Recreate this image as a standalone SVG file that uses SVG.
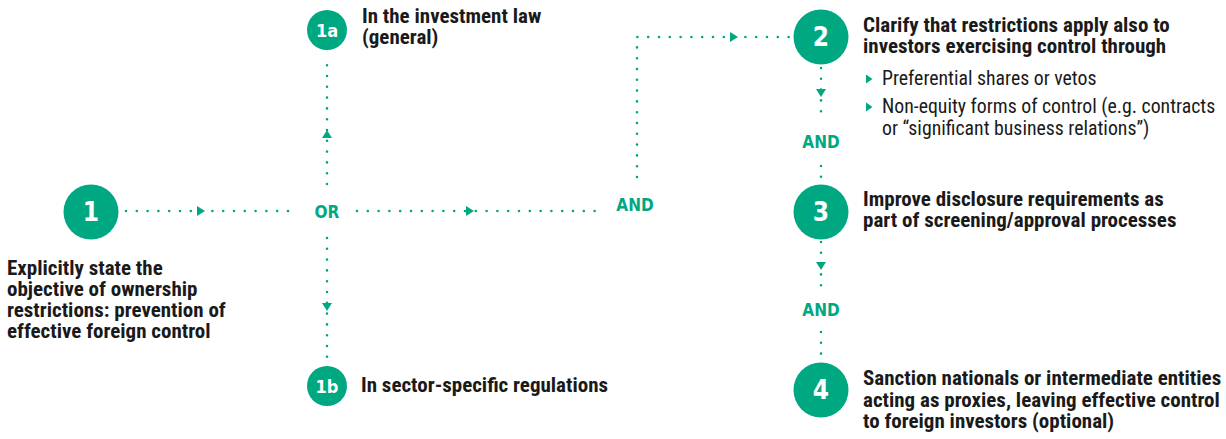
<svg xmlns="http://www.w3.org/2000/svg" width="1226" height="439" viewBox="0 0 1226 439">
<style>
.txt{font-family:"Liberation Sans Narrow","Roboto Condensed","DejaVu Sans Condensed",sans-serif;font-stretch:condensed;fill:#1a1a1a}
.b{font-weight:bold;font-size:21px}
.r{font-size:19.8px}
.g{fill:#00a882}
.lbl{font-family:"Liberation Sans Narrow","DejaVu Sans Condensed",sans-serif;font-stretch:condensed;font-weight:bold;font-size:17px;fill:#00a882;text-anchor:middle}
.num{font-family:"Liberation Sans Narrow","DejaVu Sans Condensed",sans-serif;font-stretch:condensed;font-weight:bold;fill:#fff;text-anchor:middle}
.dot{fill:none;stroke:#00a882;stroke-width:2.6;stroke-linecap:round;stroke-dasharray:0 10.8}
.arr{fill:#00a882}
</style>
<defs>
<path id="ar" d="M-4,-5 L4,0 L-4,5 Z"/>
<path id="bul" d="M0,-4.5 L6.5,0 L0,4.5 Z"/>
</defs>
<g id="connectors">
<path class="dot" d="M126,211 H297"/>
<path class="dot" d="M357,211 H597"/>
<path class="dot" d="M327,184 V55"/>
<path class="dot" d="M327,238 V362"/>
<path class="dot" d="M637,177 V37 H790"/>
<path class="dot" d="M821,68 V112"/>
<path class="dot" d="M821,166 V178"/>
<path class="dot" d="M821,242 V287"/>
<path class="dot" d="M821,332 V356"/>
<use href="#ar" class="arr" transform="translate(201,211)"/>
<use href="#ar" class="arr" transform="translate(470,211)"/>
<use href="#ar" class="arr" transform="translate(327,134) rotate(-90)"/>
<use href="#ar" class="arr" transform="translate(327,307) rotate(90)"/>
<use href="#ar" class="arr" transform="translate(734,37)"/>
<use href="#ar" class="arr" transform="translate(821,93) rotate(90)"/>
<use href="#ar" class="arr" transform="translate(821,266) rotate(90)"/>
<text class="lbl" x="327" y="218">OR</text>
<text class="lbl" x="635" y="211">AND</text>
<text class="lbl" x="821" y="148">AND</text>
<text class="lbl" x="821" y="316">AND</text>
</g>
<g id="node1">
<circle cx="91" cy="212" r="27.5" class="g"/>
<text class="num" x="91" y="221" font-size="26">1</text>
<text class="txt b"><tspan x="7" y="275">Explicitly state the</tspan><tspan x="7" y="296">objective of ownership</tspan><tspan x="7" y="317">restrictions: prevention of</tspan><tspan x="7" y="338">effective foreign control</tspan></text>
</g>
<g id="node1a">
<circle cx="327" cy="30" r="20" class="g"/>
<text class="num" x="327" y="36.5" font-size="18">1a</text>
<text class="txt b"><tspan x="362" y="23">In the investment law</tspan><tspan x="362" y="44">(general)</tspan></text>
</g>
<g id="node1b">
<circle cx="327" cy="386" r="20" class="g"/>
<text class="num" x="327" y="392.5" font-size="18">1b</text>
<text class="txt b" x="361" y="392">In sector-specific regulations</text>
</g>
<g id="node2">
<circle cx="821" cy="37" r="27.5" class="g"/>
<text class="num" x="821" y="46" font-size="26">2</text>
<text class="txt b"><tspan x="863" y="32">Clarify that restrictions apply also to</tspan><tspan x="863" y="53">investors exercising control through</tspan></text>
<use href="#bul" class="arr" transform="translate(866,79)"/>
<text class="txt r" x="882" y="85">Preferential shares or vetos</text>
<use href="#bul" class="arr" transform="translate(866,107)"/>
<text class="txt r"><tspan x="882" y="113">Non-equity forms of control (e.g. contracts</tspan><tspan x="882" y="135">or “significant business relations”)</tspan></text>
</g>
<g id="node3">
<circle cx="821" cy="212" r="27.5" class="g"/>
<text class="num" x="821" y="221" font-size="26">3</text>
<text class="txt b"><tspan x="863" y="206">Improve disclosure requirements as</tspan><tspan x="863" y="227">part of screening/approval processes</tspan></text>
</g>
<g id="node4">
<circle cx="821" cy="390" r="27.5" class="g"/>
<text class="num" x="821" y="399" font-size="26">4</text>
<text class="txt b"><tspan x="863" y="385">Sanction nationals or intermediate entities</tspan><tspan x="863" y="407">acting as proxies, leaving effective control</tspan><tspan x="863" y="428">to foreign investors (optional)</tspan></text>
</g>
</svg>
